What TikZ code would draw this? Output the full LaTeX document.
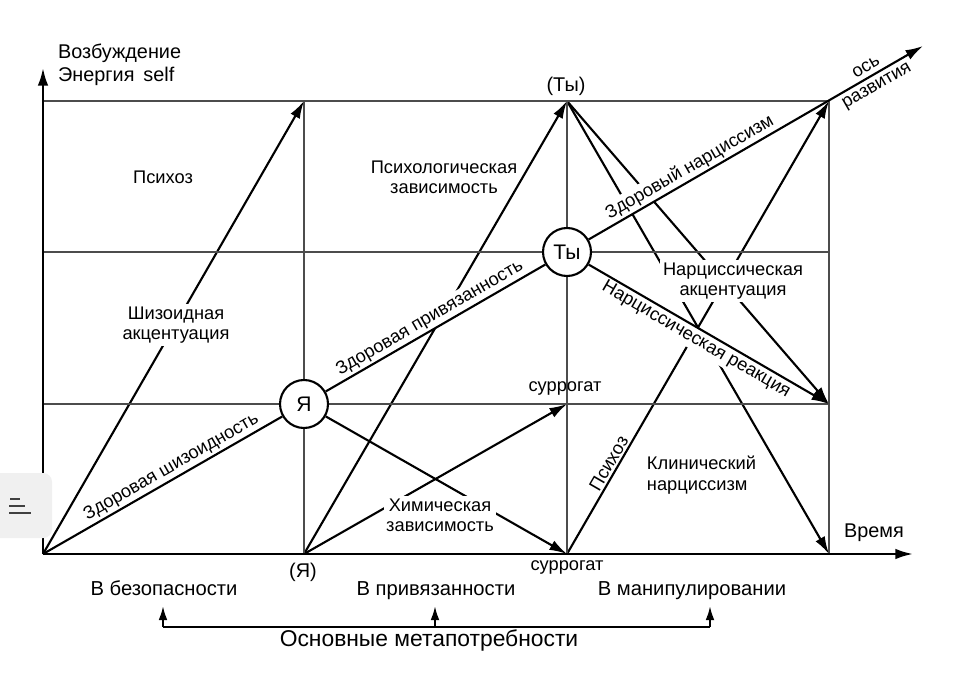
\documentclass[tikz,border=0pt]{standalone}
\usepackage{fontspec}
\setmainfont{Liberation Sans}
\usetikzlibrary{arrows.meta}
\pgfdeclarelayer{lbg}
\pgfdeclarelayer{lone}
\pgfdeclarelayer{ltwo}
\pgfdeclarelayer{lthree}
\pgfsetlayers{lbg,lone,ltwo,lthree,main}
\begin{document}
\begin{tikzpicture}[x=0.02cm,y=-0.02cm,
  grid/.style={line width=0.8pt, black!70},
  axis/.style={line width=1.4pt, -{Latex[length=10pt,width=6pt]}},
  conn/.style={line width=1.2pt},
  arr/.style={conn, -{Latex[length=10pt,width=6pt]}},
  lbl/.style={font=\fontsize{10.4}{11.6}\selectfont, align=center, inner sep=1.5pt},
  mask/.style={lbl, fill=white},
  big/.style={font=\fontsize{11.3}{13}\selectfont, inner sep=1pt},
  bottom/.style={font=\fontsize{11.5}{13}\selectfont, inner sep=1pt, anchor=base},
  circ/.style={circle, draw, line width=1.2pt, fill=white, minimum size=0.96cm, inner sep=0pt, font=\fontsize{12}{14}\selectfont}
]
\begin{pgfonlayer}{lbg}
\fill[white] (0,0) rectangle (974,682);
\end{pgfonlayer}
\useasboundingbox (0,0) rectangle (974,682);

% key points
\coordinate (O) at (43,554);
\coordinate (Ytop) at (43,68);
\coordinate (Xend) at (913,554);
\coordinate (Yb) at (304,554);
\coordinate (Tt) at (567,101);
\coordinate (Sb) at (567,554);
\coordinate (Su) at (567,404);
\coordinate (P1) at (304,101);
\coordinate (C1) at (829,101);
\coordinate (C2) at (829,404);
\coordinate (C3) at (829,554);
\coordinate (Dev) at (923,46);
\coordinate (L1) at (43,101);
\coordinate (L2) at (43,252);
\coordinate (L3) at (43,404);
\coordinate (R2) at (829,252);

% circles
\node[circ] (Ya) at (304,404) {Я};
\node[circ] (Ty) at (567,252) {Ты};

% crossing arrows (bottom layer)
\begin{pgfonlayer}{lone}
\draw[arr] (O) -- (P1);
\draw[arr] (Yb) -- (Tt);
\draw[arr] (Yb) -- (Su);
\draw[arr] (Ya) -- (Sb);
\draw[arr] (Sb) -- (C1);
\draw[arr] (Tt) -- (C3);
\draw[arr] (Tt) -- (C2);
\end{pgfonlayer}

% masking labels
\begin{pgfonlayer}{ltwo}
\node[mask] (shiz) at (176,325) {Шизоидная\\акцентуация};
\node[mask] (chem) at (440,515) {Химическая\\зависимость};
\node[mask] (nacc) at (733,281) {Нарциссическая\\акцентуация};
\path (O) -- (Ya) node[lbl, sloped, above, pos=0.56] (lshiz) {Здоровая шизоидность};
\path (Ya) -- (Ty) node[mask, sloped, above, pos=0.5] (lpriv) {Здоровая привязанность};
\path (Ty) -- (Dev) node[mask, sloped, above, pos=0.32] (lnarc) {Здоровый нарциссизм};
\path (Ty) -- (C2) node[mask, sloped, below, pos=0.47] (lreac) {Нарциссическая реакция};
\path (Sb) -- (C1) node[lbl, sloped, above, pos=0.19] (lpsy) {Психоз};
\path (Ty) -- (Dev) node[lbl, sloped, above, pos=0.845, inner sep=3pt] (los) {ось}
                    node[lbl, sloped, below, pos=0.845, inner sep=3pt] (lraz) {развития};
\end{pgfonlayer}

% grid, axes and main lines
\begin{pgfonlayer}{lthree}
\draw[grid] (L1) -- (C1);
\draw[grid] (L2) -- (R2);
\draw[grid] (L3) -- (C2);
\draw[grid] (P1) -- (Yb);
\draw[grid] (Tt) -- (Sb);
\draw[grid] (C1) -- (C3);
\draw[axis] (O) -- (Ytop);
\draw[axis] (O) -- (Xend);
\draw[conn] (O) -- (Ya);
\draw[conn] (Ya) -- (Ty);
\draw[arr] (Ty) -- (Dev);
\draw[arr] (Ty) -- (C2);
\end{pgfonlayer}

% plain labels
\node[big, anchor=west] (ax1) at (56,53) {Возбуждение};
\node[big, anchor=west] (ax2) at (56,76) {Энергия\hspace{0.45em}self};
\node[big] (time) at (874,533) {Время};
\node[lbl] (psy) at (163,177) {Психоз};
\node[lbl] (pz) at (444,177) {Психологическая\\зависимость};
\node[big] (tyl) at (566,86) {(Ты)};
\node[big] (yal) at (303,572) {(Я)};
\node[lbl] (sur1) at (565,388) {суррогат};
\node[lbl] (sur2) at (567,567) {суррогат};
\node[lbl, align=left, anchor=west] (clin) at (644,475) {Клинический\\нарциссизм};

% bottom
\node[bottom] (nb1) at (164,595) {В безопасности};
\node[bottom] (nb2) at (436,595) {В привязанности};
\node[bottom] (nb3) at (692,595) {В манипулировании};
\node[font=\fontsize{13}{15}\selectfont] (meta) at (429,640) {Основные метапотребности};
\coordinate (m1) at (163,627);
\coordinate (m2) at (435,627);
\coordinate (m3) at (710,627);
\coordinate (t1) at (163,606);
\coordinate (t2) at (435,606);
\coordinate (t3) at (710,606);
\draw[conn] (m1) -- (m3);
\draw[conn, -{Latex[length=8pt,width=5pt]}] (m1) -- (t1);
\draw[conn, -{Latex[length=8pt,width=5pt]}] (m2) -- (t2);
\draw[conn, -{Latex[length=8pt,width=5pt]}] (m3) -- (t3);

% screen overlay icon
\fill[black!6, rounded corners=5pt] (-10,473) rectangle (52,538);
\draw[black!75, line width=1.2pt] (10,499) -- (20,499);
\draw[black!75, line width=1.2pt] (9,506) -- (25,506);
\draw[black!75, line width=1.2pt] (9,513) -- (31,513);
\end{tikzpicture}
\end{document}
